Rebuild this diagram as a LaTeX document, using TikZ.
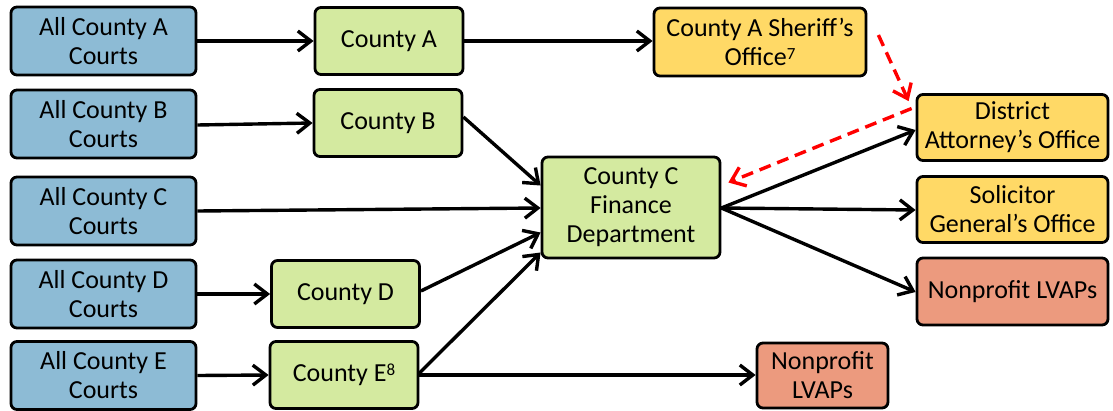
\documentclass[tikz,border=0pt]{standalone}
\usepackage{fontspec}
\setmainfont{Carlito}
\usetikzlibrary{arrows.meta,calc}
\definecolor{cblue}{RGB}{141,187,213}
\definecolor{cgreen}{RGB}{212,234,160}
\definecolor{cyellow}{RGB}{255,217,102}
\definecolor{csalmon}{RGB}{236,154,126}
\definecolor{cred}{RGB}{255,0,0}
\newcommand{\supx}[1]{\raisebox{6pt}{\fontsize{17}{17}\selectfont #1}}
\begin{document}
\begin{tikzpicture}[x=1pt,y=-1pt,
  box/.style={draw=black,line width=2.8pt,rounded corners=6pt,align=center,inner sep=0pt,
    font=\fontsize{26}{29}\selectfont},
  court/.style={box,fill=cblue,minimum width=185pt,minimum height=68pt},
  county/.style={box,fill=cgreen,minimum width=148pt,minimum height=67pt},
  office/.style={box,fill=cyellow,minimum width=191pt,minimum height=66pt},
  lvap/.style={box,fill=csalmon,minimum height=66pt},
  flow/.style={line width=3.4pt,-{Straight Barb[length=13pt,width=20pt]}},
  redflow/.style={line width=3.4pt,draw=cred,dash pattern=on 12pt off 7pt,-{Straight Barb[length=13pt,width=20pt]}}
]
\useasboundingbox (0,0) rectangle (1113,410);

\node[court] (ca) at (103.5,41) {All County A\\Courts};
\node[court] (cb) at (103.5,124) {All County B\\Courts};
\node[court] (cc) at (103.5,211) {All County C\\Courts};
\node[court] (cd) at (103.5,294) {All County D\\Courts};
\node[court] (ce) at (103.5,375.5) {All County E\\Courts};

\node[county] (ga) at (389,41) {County A};
\node[county] (gb) at (388,123) {County B};
\node[county] (gd) at (345.5,294) {County D};
\node[county] (ge) at (344,375) {County E\supx{8}};
\node[county,minimum width=178pt,minimum height=101pt] (fin) at (631,207.5) {County C\\Finance\\Department};

\node[office,minimum width=212pt,minimum height=68pt] (sh) at (760,42) {County A Sheriff’s\\Office\supx{7}};
\node[office] (da) at (1012.5,127.5) {District\\Attorney’s Office};
\node[office] (sg) at (1012.5,209.5) {Solicitor\\General’s Office};
\node[lvap,minimum width=191pt,minimum height=67pt] (np1) at (1012.5,291.5) {Nonprofit LVAPs};
\node[lvap,minimum width=131pt,minimum height=65pt] (np2) at (822.5,375.5) {Nonprofit\\LVAPs};

\draw[flow] (ca.east) -- (ga.west);
\draw[flow] (ga.east) -- (ga.east -| sh.west);
\draw[flow] ($(cb.east)+(0,1)$) -- ($(gb.west)+(0,0)$);
\draw[flow] (cd.east) -- (gd.west);
\draw[flow] (ce.east) -- (ge.west);
\draw[flow] ($(cc.east)$) -- ($(fin.west)+(0,0.5)$);
\draw[flow] ($(gb.east)+(0,-6)$) -- ($(fin.west)+(0,-22)$);
\draw[flow] ($(gd.east)+(0,-3)$) -- ($(fin.west)+(0,25)$);
\draw[flow] ($(ge.east)+(0,-2)$) -- ($(fin.west)+(0,45)$);
\draw[flow] (ge.east) -- (ge.east -| np2.west);

\coordinate (fo) at ($(fin.east)+(0,0.5)$);
\draw[flow] (fo) -- ($(da.west)+(0,2.5)$);
\draw[flow] (fo) -- ($(sg.west)+(0,0.5)$);
\draw[flow] (fo) -- ($(np1.west)+(0,0.5)$);

\draw[redflow] ($(sh.east)+(11,-7)$) -- ($(da.north west)+(-7,8)$);
\draw[redflow] ($(da.west)+(-4,-19)$) -- ($(fin.east)+(7,-25)$);
\end{tikzpicture}
\end{document}
